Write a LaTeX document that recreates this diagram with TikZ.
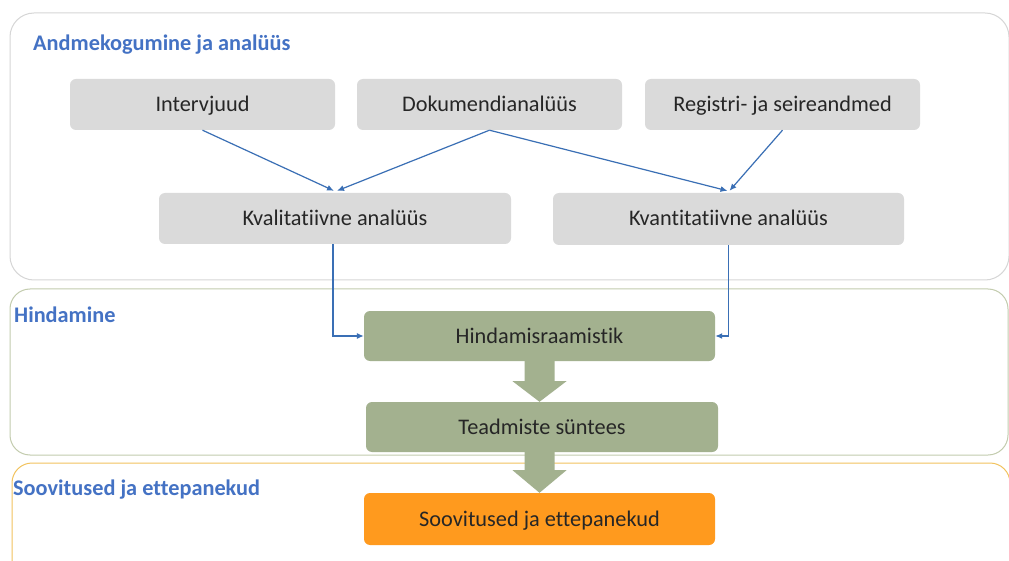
\documentclass[tikz,border=0pt]{standalone}
\usepackage{fontspec}
\setmainfont{Carlito}[Ligatures={NoCommon}]
\usetikzlibrary{calc,arrows.meta}
\definecolor{boxgray}{HTML}{DADADA}
\definecolor{boxgreen}{HTML}{A3B18F}
\definecolor{boxorange}{HTML}{FF9A1E}
\definecolor{titleblue}{HTML}{4472C4}
\definecolor{arrblue}{HTML}{3A6FB5}
\definecolor{txt}{HTML}{262626}
\definecolor{pgray}{HTML}{D6D6D6}
\definecolor{pgreen}{HTML}{C3CCAE}
\definecolor{porange}{HTML}{F2C35E}
\tikzset{
  x=1pt, y=-1pt,
  panel/.style={rounded corners=24pt, line width=1pt},
  ptitle/.style={anchor=west, text=titleblue, font=\fontsize{22.3}{26}\selectfont\bfseries, inner sep=0pt},
  stepbox/.style={rounded corners=6pt, text=txt, font=\fontsize{22.3}{26}\selectfont, inner sep=0pt, text height=18pt, text depth=4pt},
  gbox/.style={stepbox, fill=boxgray},
  grbox/.style={stepbox, fill=boxgreen},
  obox/.style={stepbox, fill=boxorange},
  arr/.style={draw=arrblue, line width=1.2pt, -{Latex[length=7pt,width=6pt]}},
  blockarrow/.style={fill=boxgreen}
}
\begin{document}
\begin{tikzpicture}
\useasboundingbox (0,0) rectangle (1009,561);
\clip (0,0) rectangle (1009,561);
\fill[white] (0,0) rectangle (1009,561);
% panels
\draw[panel, draw=pgray] (10,13) rectangle (1009,280);
\draw[panel, draw=pgreen, rounded corners=20pt] (10,289) rectangle (1008,455);
\draw[panel, draw=porange, rounded corners=20pt] (12,463) rectangle (1010,590);
\node[ptitle] (t1) at (33,45) {Andmekogumine ja analüüs};
\node[ptitle] (t2) at (14,315) {Hindamine};
\node[ptitle] (t3) at (13,490) {Soovitused ja ettepanekud};
% boxes
\node[gbox, minimum width=265pt, minimum height=51pt] (int) at (202.5,104.5) {Intervjuud};
\node[gbox, minimum width=265pt, minimum height=51pt] (dok) at (489.5,104.5) {Dokumendianalüüs};
\node[gbox, minimum width=275pt, minimum height=51pt] (reg) at (782.5,104.5) {Registri- ja seireandmed};
\node[gbox, minimum width=352pt, minimum height=51pt] (kval) at (335,218.5) {Kvalitatiivne analüüs};
\node[gbox, minimum width=351pt, minimum height=52pt] (kvant) at (728.5,219) {Kvantitatiivne analüüs};
\node[grbox, minimum width=351pt, minimum height=50pt] (hind) at (539.5,336) {Hindamisraamistik};
\node[grbox, minimum width=352pt, minimum height=50pt] (tead) at (542,427) {Teadmiste süntees};
\node[obox, minimum width=351pt, minimum height=52pt] (soov) at (539.5,519) {Soovitused ja ettepanekud};
% thin arrows
\draw[arr] (int.south) -- ($(kval.north)+(-1,-2)$);
\draw[arr] (dok.south) -- ($(kval.north)+(2,-2)$);
\draw[arr] (dok.south) -- ($(kvant.north)+(-1,-2)$);
\draw[arr] (reg.south) -- ($(kvant.north)+(1,-2)$);
\draw[arr] ($(kval.south)+(-2,0)$) |- (hind.west);
\draw[arr] (kvant.south) |- (hind.east);
% block arrows
\coordinate (a1) at (hind.south);
\coordinate (a2) at (tead.north -| hind.south);
\fill[blockarrow] ($(a1)+(-15,0)$) -- ($(a1)+(15,0)$) -- ($(a1)+(15,20)$) -- ($(a1)+(27,20)$)
  -- (a2) -- ($(a1)+(-27,20)$) -- ($(a1)+(-15,20)$) -- cycle;
\coordinate (b1) at (tead.south -| hind.south);
\coordinate (b2) at (soov.north);
\fill[blockarrow] ($(b1)+(-15,0)$) -- ($(b1)+(15,0)$) -- ($(b1)+(15,18)$) -- ($(b1)+(27,18)$)
  -- (b2) -- ($(b1)+(-27,18)$) -- ($(b1)+(-15,18)$) -- cycle;
\end{tikzpicture}
\end{document}
